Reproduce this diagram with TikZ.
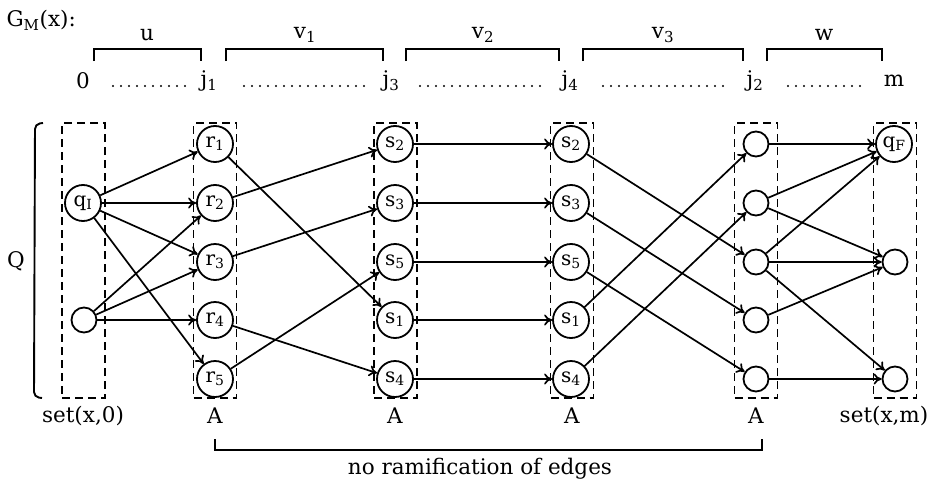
\documentclass[tikz,border=0pt]{standalone}
\usepackage{fontspec}
\setmainfont{DejaVu Serif}
\usetikzlibrary{arrows.meta}
\begin{document}
\begin{tikzpicture}[x=1pt,y=-1pt,
  every node/.style={font=\fontsize{21.5}{25}\selectfont},
  lab/.style={draw,circle,line width=1.8pt,minimum size=36pt,inner sep=0pt,font=\fontsize{20}{24}\selectfont},
  emp/.style={draw,circle,line width=1.8pt,minimum size=25pt,inner sep=0pt},
  dbox/.style={draw,dash pattern=on 8pt off 5pt,line width=1.9pt,minimum width=43pt,minimum height=275pt,inner sep=0pt},
  edge/.style={line width=1.7pt,-{To[length=8pt,width=11pt]}},
  brk/.style={line width=1.9pt},
  dotrow/.style={line width=2.3pt,line cap=round,dash pattern=on 0pt off 8pt}]
\useasboundingbox (0,0) rectangle (932,482);

% header
\node[anchor=west] (gm) at (3,20) {G\textsubscript{M}(x):};
\draw[brk] (94,61) -- (94,49) -- (201,49) -- (201,61);
\draw[brk] (226,61) -- (226,49) -- (383,49) -- (383,61);
\draw[brk] (406,61) -- (406,49) -- (559,49) -- (559,61);
\draw[brk] (583,61) -- (583,49) -- (743,49) -- (743,61);
\draw[brk] (767,61) -- (767,49) -- (882,49) -- (882,61);
\node (lu) at (147,35) {u};
\node (lv1) at (305,35) {v\textsubscript{1}};
\node (lv2) at (483,35) {v\textsubscript{2}};
\node (lv3) at (663,35) {v\textsubscript{3}};
\node (lw) at (824,35) {w};

\node (p0) at (83,81) {0};
\node (pj1) at (209,81) {j\textsubscript{1}};
\node (pj3) at (391,81) {j\textsubscript{3}};
\node (pj4) at (570,81) {j\textsubscript{4}};
\node (pj2) at (755,81) {j\textsubscript{2}};
\node (pm) at (894,81) {m};
\draw[dotrow] (113,86) -- (186,86);
\draw[dotrow] (244,86) -- (366,86);
\draw[dotrow] (420,86) -- (545,86);
\draw[dotrow] (603,86) -- (728,86);
\draw[dotrow] (788,86) -- (861,86);

% Q bracket
\node (Q) at (16,261) {Q};
\draw[brk,rounded corners=5pt] (43,123) -- (35,124) -- (34,397) -- (42,398);

% dashed boxes
\node[dbox] (B0) at (83.5,260.5) {};
\node[dbox] (B1) at (215,260.5) {};
\node[dbox] (B2) at (395.5,260.5) {};
\node[dbox] (B3) at (572,260.5) {};
\node[dbox] (B4) at (756,260.5) {};
\node[dbox] (B5) at (895,260.5) {};

% column 0
\node[lab] (qI) at (83,203) {q\textsubscript{I}};
\node[emp] (q0) at (84,320) {};
% column 1
\node[lab] (r1) at (215,144) {r\textsubscript{1}};
\node[lab] (r2) at (215,203) {r\textsubscript{2}};
\node[lab] (r3) at (215,262) {r\textsubscript{3}};
\node[lab] (r4) at (215,320) {r\textsubscript{4}};
\node[lab] (r5) at (215,379) {r\textsubscript{5}};
% column 2
\node[lab] (a2) at (395,144) {s\textsubscript{2}};
\node[lab] (a3) at (395,203) {s\textsubscript{3}};
\node[lab] (a5) at (395,262) {s\textsubscript{5}};
\node[lab] (a1) at (395,320) {s\textsubscript{1}};
\node[lab] (a4) at (395,379) {s\textsubscript{4}};
% column 3
\node[lab] (b2) at (571,144) {s\textsubscript{2}};
\node[lab] (b3) at (571,203) {s\textsubscript{3}};
\node[lab] (b5) at (571,262) {s\textsubscript{5}};
\node[lab] (b1) at (571,320) {s\textsubscript{1}};
\node[lab] (b4) at (571,379) {s\textsubscript{4}};
% column 4
\node[emp] (e1) at (756,144) {};
\node[emp] (e2) at (756,203) {};
\node[emp] (e3) at (756,262) {};
\node[emp] (e4) at (756,320) {};
\node[emp] (e5) at (756,379) {};
% column 5
\node[lab] (qF) at (894,144) {q\textsubscript{F}};
\node[emp] (f3) at (895,262) {};
\node[emp] (f5) at (895,379) {};

% edges col0 -> col1
\draw[edge] (qI) -- (r1);
\draw[edge] (qI) -- (r2);
\draw[edge] (qI) -- (r3);
\draw[edge] (qI) -- (r5);
\draw[edge] (q0) -- (r2);
\draw[edge] (q0) -- (r3);
\draw[edge] (q0) -- (r4);
% col1 -> col2
\draw[edge] (r1) -- (a1);
\draw[edge] (r2) -- (a2);
\draw[edge] (r3) -- (a3);
\draw[edge] (r4) -- (a4);
\draw[edge] (r5) -- (a5);
% col2 -> col3
\draw[edge] (a2) -- (b2);
\draw[edge] (a3) -- (b3);
\draw[edge] (a5) -- (b5);
\draw[edge] (a1) -- (b1);
\draw[edge] (a4) -- (b4);
% col3 -> col4
\draw[edge] (b2) -- (e3);
\draw[edge] (b3) -- (e4);
\draw[edge] (b5) -- (e5);
\draw[edge] (b1) -- (e1);
\draw[edge] (b4) -- (e2);
% col4 -> col5
\draw[edge] (e1) -- (qF);
\draw[edge] (e2) -- (qF);
\draw[edge] (e2) -- (f3);
\draw[edge] (e3) -- (qF);
\draw[edge] (e3) -- (f3);
\draw[edge] (e3) -- (f5);
\draw[edge] (e4) -- (f3);
\draw[edge] (e5) -- (f5);

% bottom labels
\node (s0) at (83,416) {set(x,0)};
\node (A1) at (215,416) {A};
\node (A2) at (395,416) {A};
\node (A3) at (572,416) {A};
\node (A4) at (756,416) {A};
\node (sm) at (884,416) {set(x,m)};
\draw[brk] (215,439) -- (215,450) -- (762,450) -- (762,439);
\node (nr) at (480,469) {no ramification of edges};
\end{tikzpicture}
\end{document}
